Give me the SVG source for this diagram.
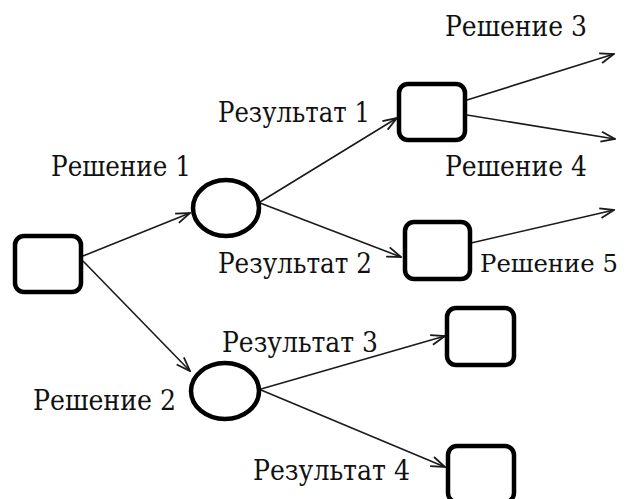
<svg xmlns="http://www.w3.org/2000/svg" width="626" height="499" viewBox="0 0 626 499">
<style>
.node{fill:#fff;stroke:#000;stroke-width:4.5}
.edge{fill:none;stroke:#1a1a1a;stroke-width:1.6;marker-end:url(#arr)}
.lbl{font-family:"DejaVu Serif","Liberation Serif",serif;font-size:27px;fill:#111}
</style>
<defs>
<marker id="arr" viewBox="0 0 16 12" refX="15" refY="6" markerWidth="16" markerHeight="12" markerUnits="userSpaceOnUse" orient="auto">
<path d="M1,1 L15,6 L1,11" fill="none" stroke="#1a1a1a" stroke-width="1.8"/>
</marker>
</defs>
<g id="connectors">
<line class="edge" x1="83" y1="256" x2="190" y2="213"/>
<line class="edge" x1="83" y1="261" x2="190" y2="371"/>
<line class="edge" x1="260" y1="202" x2="397" y2="118"/>
<line class="edge" x1="260" y1="203" x2="401" y2="257"/>
<line class="edge" x1="467" y1="100" x2="614" y2="54"/>
<line class="edge" x1="467" y1="115" x2="615" y2="139"/>
<line class="edge" x1="471" y1="243" x2="614" y2="210"/>
<line class="edge" x1="261" y1="389" x2="445" y2="336"/>
<line class="edge" x1="261" y1="390" x2="445" y2="467"/>
</g>
<g id="root"><rect class="node" x="15" y="236" width="66" height="56" rx="9"/></g>
<g id="chance1"><ellipse class="node" cx="226" cy="208" rx="33" ry="28"/></g>
<g id="chance2"><ellipse class="node" cx="225" cy="391" rx="34" ry="28"/></g>
<g id="dec1"><rect class="node" x="399" y="84" width="66" height="56" rx="9"/></g>
<g id="dec2"><rect class="node" x="405" y="222" width="65" height="57" rx="9"/></g>
<g id="dec3"><rect class="node" x="447" y="308" width="67" height="57" rx="9"/></g>
<g id="dec4"><rect class="node" x="448" y="446" width="66" height="56" rx="9"/></g>
<g id="labels">
<text class="lbl" x="445" y="36" textLength="142" lengthAdjust="spacingAndGlyphs">Решение 3</text>
<text class="lbl" x="218" y="122" textLength="152" lengthAdjust="spacingAndGlyphs">Результат 1</text>
<text class="lbl" x="51" y="176" textLength="140" lengthAdjust="spacingAndGlyphs">Решение 1</text>
<text class="lbl" x="445" y="176" textLength="142" lengthAdjust="spacingAndGlyphs">Решение 4</text>
<text class="lbl" x="218" y="273" textLength="154" lengthAdjust="spacingAndGlyphs">Результат 2</text>
<text class="lbl" x="480" y="272" font-size="24.5" style="font-size:24.5px" textLength="138" lengthAdjust="spacingAndGlyphs">Решение 5</text>
<text class="lbl" x="222" y="352" textLength="156" lengthAdjust="spacingAndGlyphs">Результат 3</text>
<text class="lbl" x="33" y="410" textLength="143" lengthAdjust="spacingAndGlyphs">Решение 2</text>
<text class="lbl" x="253" y="480" textLength="157" lengthAdjust="spacingAndGlyphs">Результат 4</text>
</g>
</svg>
